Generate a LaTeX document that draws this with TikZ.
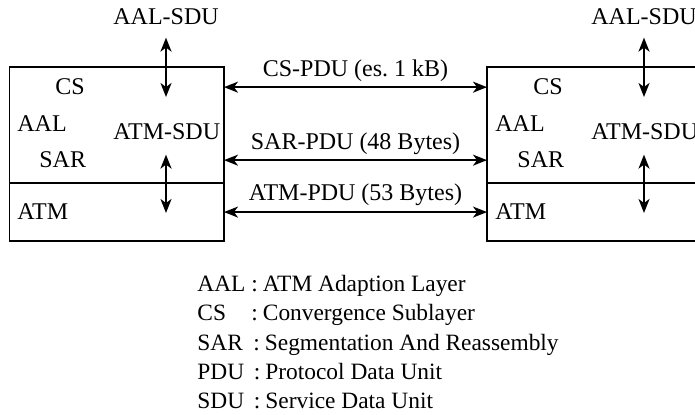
\documentclass[tikz,border=0pt]{standalone}
\usepackage{fontspec}
\setmainfont{Liberation Serif}
\usetikzlibrary{arrows.meta, positioning}

\begin{document}
\begin{tikzpicture}[
    x=0.5pt, y=-0.5pt,
    font=\fontsize{12}{14}\selectfont,
    layerbox/.style={draw, line width=0.6pt, outer sep=0pt, minimum width=107.25pt},
    txt/.style={inner sep=0pt, anchor=base west},
    legend/.style={txt, font=\fontsize{11.7}{14}\selectfont},
    pdulabel/.style={midway, above, inner sep=2.5pt},
    arrow/.style={{Stealth[length=7pt, width=5.5pt, inset=2pt]}-{Stealth[length=7pt, width=5.5pt, inset=2pt]}, line width=0.9pt}
]
  \useasboundingbox (0,0) rectangle (695,415);

  \node[layerbox, minimum height=58pt] (aalL) at (116.75,125) {};
  \node[layerbox, minimum height=29pt, below=0pt of aalL] (atmL) {};
  \node[layerbox, minimum height=58pt] (aalR) at (594.25,125) {};
  \node[layerbox, minimum height=29pt, below=0pt of aalR] (atmR) {};

  \node[txt] (csL) at (55,95) {CS};
  \node[txt] (aaltxtL) at (17,132) {AAL};
  \node[txt] (sarL) at (39,168) {SAR};
  \node[txt] (sduL) at (113,140) {ATM-SDU};
  \node[txt] (atmtxtL) at (17,220) {ATM};
  \node[txt] (aalsduL) at (113,25) {AAL-SDU};

  \node[txt] (csR) at (533,95) {CS};
  \node[txt] (aaltxtR) at (495,132) {AAL};
  \node[txt] (sarR) at (517,168) {SAR};
  \node[txt] (sduR) at (591,140) {ATM-SDU};
  \node[txt] (atmtxtR) at (495,220) {ATM};
  \node[txt] (aalsduR) at (591,25) {AAL-SDU};

  \coordinate (upL) at (166,97);
  \coordinate (downL) at (166,213);
  \coordinate (upR) at (644,97);
  \coordinate (downR) at (644,213);
  \draw[arrow, shorten <=6pt] (upL |- aalsduL.south) -- (upL);
  \draw[arrow, shorten <=7pt] (downL |- sduL.south) -- (downL);
  \draw[arrow, shorten <=6pt] (upR |- aalsduR.south) -- (upR);
  \draw[arrow, shorten <=7pt] (downR |- sduR.south) -- (downR);

  \draw[arrow] (aalL.east |- csL) -- (aalR.west |- csL) node[pdulabel] (cspdu) {CS-PDU (es.\ 1 kB)};
  \draw[arrow] (aalL.east |- sarL) -- (aalR.west |- sarL) node[pdulabel] (sarpdu) {SAR-PDU (48 Bytes)};
  \draw[arrow] (atmL.east |- atmtxtL) -- (atmR.west |- atmtxtL) node[pdulabel] (atmpdu) {ATM-PDU (53 Bytes)};

  \node[legend] (keyaal) at (197,292) {AAL};
  \node[legend] (defaal) at (251,292) {:\hspace{2.5pt}ATM Adaption Layer};
  \node[legend] (keycs) at (197,321) {CS};
  \node[legend] (defcs) at (251,321) {:\hspace{2.5pt}Convergence Sublayer};
  \node[legend] (keysar) at (197,351) {SAR};
  \node[legend] (defsar) at (253,351) {:\hspace{2.5pt}Segmentation And Reassembly};
  \node[legend] (keypdu) at (197,380) {PDU};
  \node[legend] (defpdu) at (253.5,380) {:\hspace{2.5pt}Protocol Data Unit};
  \node[legend] (keysdu) at (197,409) {SDU};
  \node[legend] (defsdu) at (253.5,409) {:\hspace{2.5pt}Service Data Unit};
\end{tikzpicture}
\end{document}
